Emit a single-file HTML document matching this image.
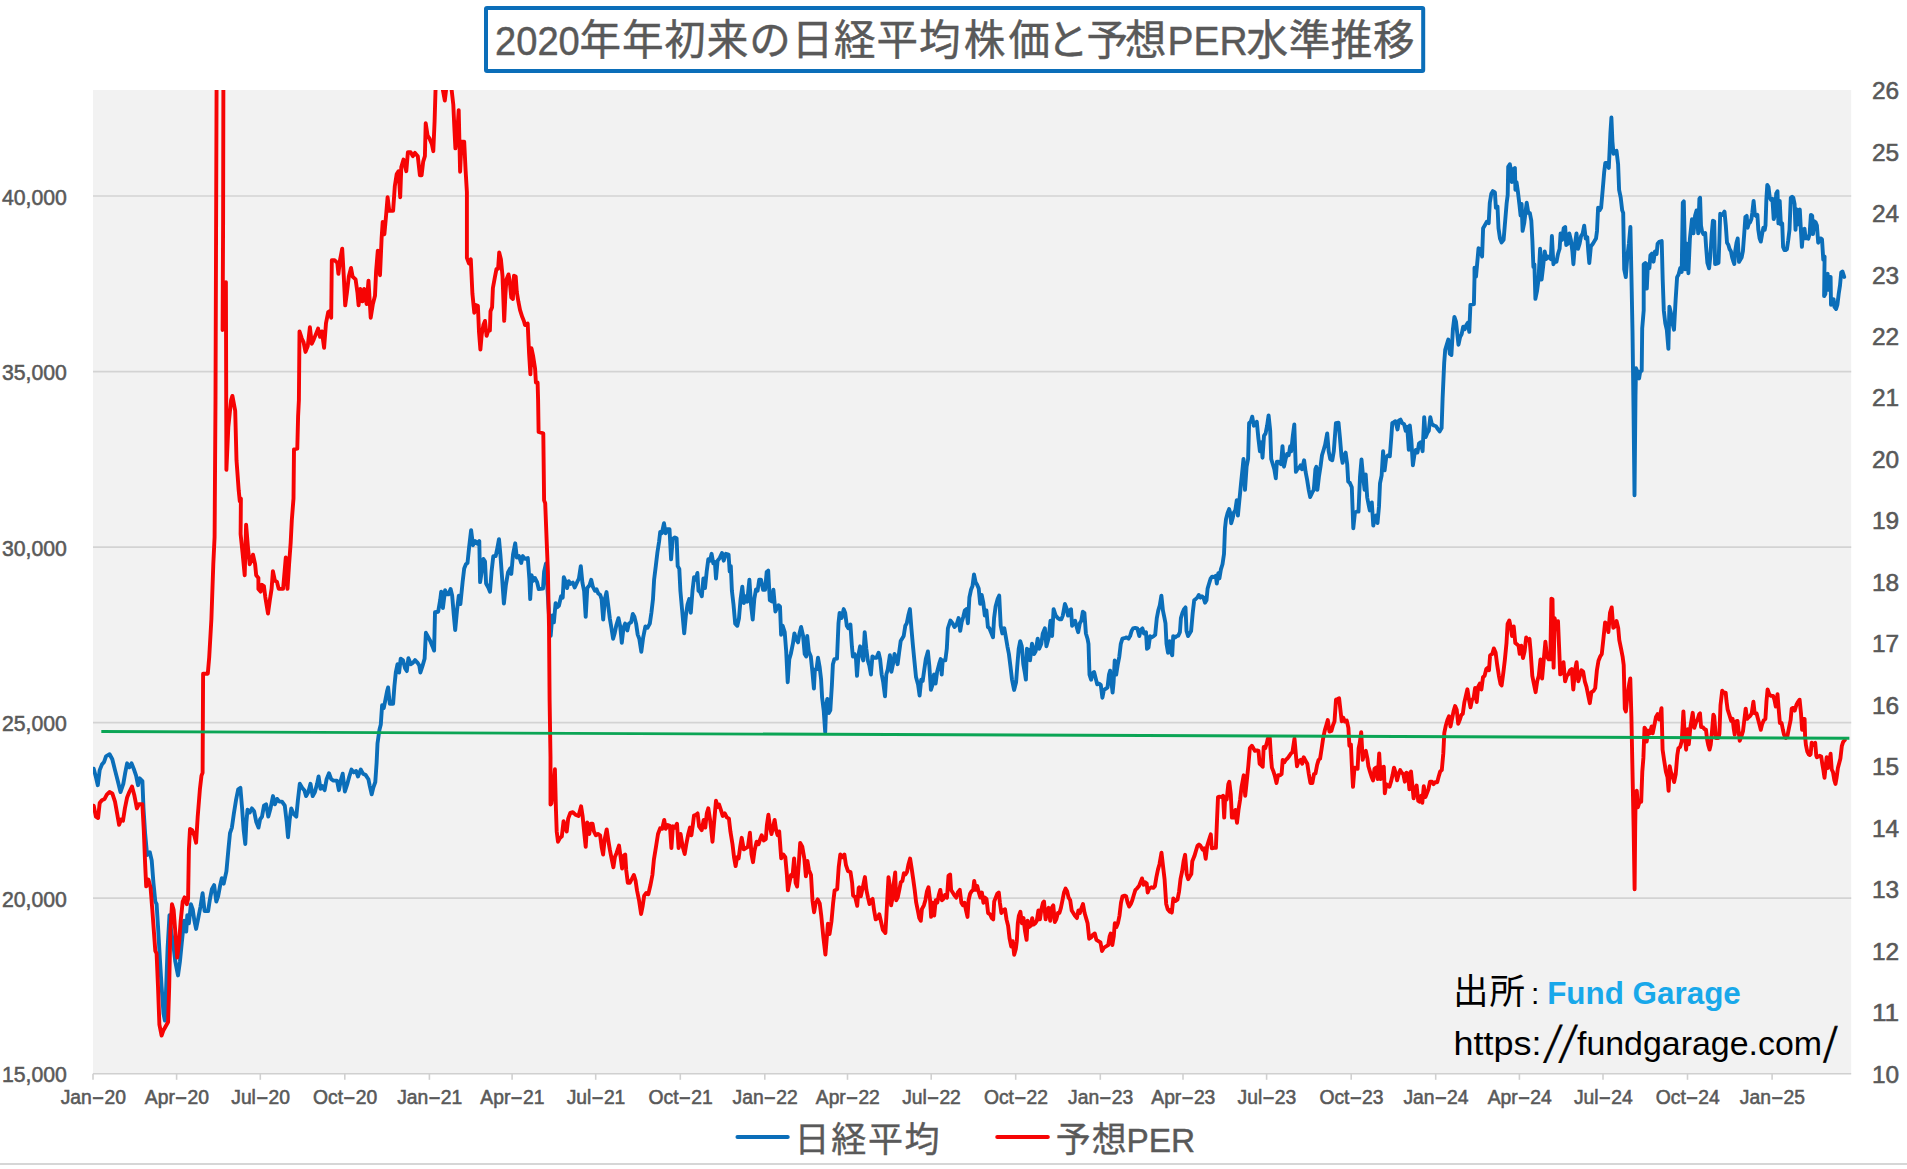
<!DOCTYPE html>
<html lang="ja"><head><meta charset="utf-8"><title>2020年年初来の日経平均株価と予想PER水準推移</title>
<style>
html,body{margin:0;padding:0;background:#fff}
body{width:1907px;height:1169px;overflow:hidden;position:relative}
svg text{white-space:pre}
.la,.ax{font-family:"Liberation Sans",sans-serif}
.jp{font-family:"Liberation Sans","Noto Sans CJK JP",sans-serif}
.ax{fill:#595959;stroke:#595959;stroke-width:.55px}
.ttl{fill:#595959;stroke:#595959;stroke-width:.45px}
.lg{fill:#595959;stroke:#595959;stroke-width:.4px}
.sl{fill:#000;stroke:#000;stroke-width:.5px}
</style>
</head><body>
<svg width="1907" height="1169" viewBox="0 0 1907 1169" style="position:absolute;left:0;top:0">
<rect x="0" y="0" width="1907" height="1169" fill="#fff"/>
<rect x="93" y="90" width="1758.2" height="983.8" fill="#f2f2f2"/>
<line x1="93" x2="1851.2" y1="898.2" y2="898.2" stroke="#d3d3d3" stroke-width="1.7"/>
<line x1="93" x2="1851.2" y1="722.7" y2="722.7" stroke="#d3d3d3" stroke-width="1.7"/>
<line x1="93" x2="1851.2" y1="547.1" y2="547.1" stroke="#d3d3d3" stroke-width="1.7"/>
<line x1="93" x2="1851.2" y1="371.6" y2="371.6" stroke="#d3d3d3" stroke-width="1.7"/>
<line x1="93" x2="1851.2" y1="196.0" y2="196.0" stroke="#d3d3d3" stroke-width="1.7"/>
<line x1="93" x2="1851.2" y1="1073.8" y2="1073.8" stroke="#d0d0d0" stroke-width="1.6"/>
<line x1="93.0" x2="93.0" y1="1073.8" y2="1079.8" stroke="#d0d0d0" stroke-width="1.6"/>
<line x1="176.6" x2="176.6" y1="1073.8" y2="1079.8" stroke="#d0d0d0" stroke-width="1.6"/>
<line x1="260.3" x2="260.3" y1="1073.8" y2="1079.8" stroke="#d0d0d0" stroke-width="1.6"/>
<line x1="344.8" x2="344.8" y1="1073.8" y2="1079.8" stroke="#d0d0d0" stroke-width="1.6"/>
<line x1="429.4" x2="429.4" y1="1073.8" y2="1079.8" stroke="#d0d0d0" stroke-width="1.6"/>
<line x1="512.1" x2="512.1" y1="1073.8" y2="1079.8" stroke="#d0d0d0" stroke-width="1.6"/>
<line x1="595.7" x2="595.7" y1="1073.8" y2="1079.8" stroke="#d0d0d0" stroke-width="1.6"/>
<line x1="680.3" x2="680.3" y1="1073.8" y2="1079.8" stroke="#d0d0d0" stroke-width="1.6"/>
<line x1="764.8" x2="764.8" y1="1073.8" y2="1079.8" stroke="#d0d0d0" stroke-width="1.6"/>
<line x1="847.5" x2="847.5" y1="1073.8" y2="1079.8" stroke="#d0d0d0" stroke-width="1.6"/>
<line x1="931.2" x2="931.2" y1="1073.8" y2="1079.8" stroke="#d0d0d0" stroke-width="1.6"/>
<line x1="1015.7" x2="1015.7" y1="1073.8" y2="1079.8" stroke="#d0d0d0" stroke-width="1.6"/>
<line x1="1100.3" x2="1100.3" y1="1073.8" y2="1079.8" stroke="#d0d0d0" stroke-width="1.6"/>
<line x1="1183.0" x2="1183.0" y1="1073.8" y2="1079.8" stroke="#d0d0d0" stroke-width="1.6"/>
<line x1="1266.6" x2="1266.6" y1="1073.8" y2="1079.8" stroke="#d0d0d0" stroke-width="1.6"/>
<line x1="1351.2" x2="1351.2" y1="1073.8" y2="1079.8" stroke="#d0d0d0" stroke-width="1.6"/>
<line x1="1435.7" x2="1435.7" y1="1073.8" y2="1079.8" stroke="#d0d0d0" stroke-width="1.6"/>
<line x1="1519.4" x2="1519.4" y1="1073.8" y2="1079.8" stroke="#d0d0d0" stroke-width="1.6"/>
<line x1="1603.0" x2="1603.0" y1="1073.8" y2="1079.8" stroke="#d0d0d0" stroke-width="1.6"/>
<line x1="1687.5" x2="1687.5" y1="1073.8" y2="1079.8" stroke="#d0d0d0" stroke-width="1.6"/>
<line x1="1772.1" x2="1772.1" y1="1073.8" y2="1079.8" stroke="#d0d0d0" stroke-width="1.6"/>
<clipPath id="pc"><rect x="93" y="90" width="1758.2" height="983.8"/></clipPath>
<g clip-path="url(#pc)" fill="none" stroke-linejoin="round" stroke-linecap="round">
<path d="M93.7,768.7 L95.9,777.0 L97.8,785.2 L99.7,770.1 L101.9,764.6 L104.1,761.9 L106.0,756.4 L109.6,754.2 L112.3,759.2 L115.0,770.1 L117.8,781.1 L120.5,792.0 L123.3,783.8 L125.2,772.8 L127.1,763.3 L129.3,767.4 L131.5,763.3 L133.7,768.7 L136.1,775.6 L138.0,785.2 L139.7,778.3 L142.4,781.1 L143.5,808.4 L145.1,833.1 L147.1,855.0 L149.8,852.2 L151.7,860.4 L153.4,882.3 L155.3,901.5 L156.6,904.2 L158.0,926.1 L159.9,959.0 L161.6,986.4 L163.5,1013.7 L164.9,1020.6 L166.2,986.4 L167.6,948.0 L169.5,915.2 L171.2,931.6 L173.1,942.6 L175.3,961.7 L178.0,975.4 L179.9,961.7 L181.8,942.6 L184.0,920.7 L186.2,931.6 L187.3,915.2 L188.9,923.4 L190.9,904.2 L192.8,909.7 L194.4,920.7 L196.1,928.9 L198.3,917.9 L200.4,907.0 L202.6,893.3 L204.6,911.1 L208.1,911.1 L210.0,898.8 L211.9,889.2 L214.1,885.1 L216.3,901.5 L218.2,896.0 L220.2,885.1 L221.8,878.2 L223.7,883.7 L226.4,871.4 L228.4,849.5 L230.0,833.1 L231.9,827.6 L233.8,813.9 L236.0,800.2 L238.2,789.3 L240.4,787.9 L242.1,808.4 L243.7,830.3 L245.3,844.0 L246.4,822.1 L247.5,809.8 L249.7,812.5 L251.9,808.4 L254.1,811.2 L256.3,822.1 L258.5,827.6 L260.1,819.4 L262.0,816.6 L264.0,805.7 L266.1,804.3 L268.3,816.6 L270.5,808.4 L273.0,796.1 L274.9,804.3 L277.1,798.9 L279.3,801.6 L282.0,801.6 L284.8,805.7 L286.7,822.1 L288.0,837.2 L289.7,819.4 L291.3,808.4 L293.5,813.9 L296.3,816.6 L297.9,800.2 L299.8,783.8 L302.3,787.9 L304.5,790.6 L306.1,796.1 L308.3,792.0 L310.5,783.8 L312.7,796.1 L314.9,792.0 L317.1,783.8 L318.6,776.5 L320.5,788.8 L322.4,786.1 L324.6,790.2 L326.6,779.2 L329.0,773.2 L331.2,779.2 L333.4,780.6 L337.0,780.6 L338.9,790.2 L341.1,779.2 L342.7,773.7 L344.9,791.5 L347.1,784.7 L349.3,776.5 L351.5,769.6 L353.7,772.4 L356.1,771.0 L358.0,776.5 L360.8,769.6 L363.0,773.7 L365.7,775.1 L368.4,779.2 L369.8,786.1 L371.7,794.3 L373.4,787.4 L375.3,782.0 L376.6,762.8 L377.5,743.6 L379.4,729.9 L380.8,724.5 L382.1,705.3 L383.8,708.0 L385.4,699.8 L387.0,691.6 L388.1,687.5 L389.8,703.9 L393.1,703.9 L394.4,686.1 L395.8,672.5 L397.5,664.2 L399.1,672.5 L400.7,658.8 L402.9,660.1 L405.1,668.3 L406.8,671.1 L408.4,658.2 L410.9,664.2 L412.8,662.9 L415.0,660.1 L417.7,662.9 L419.3,665.6 L420.4,672.5 L422.6,665.6 L424.6,658.8 L425.9,632.8 L428.1,636.9 L430.3,641.0 L432.5,646.4 L434.1,650.6 L435.0,612.2 L438.2,611.7 L440.2,599.9 L441.2,591.7 L442.9,608.1 L445.1,590.3 L446.7,594.4 L448.4,594.4 L450.6,589.0 L452.2,595.8 L453.8,615.0 L455.2,630.0 L457.1,609.5 L458.8,595.8 L460.4,604.0 L462.6,582.1 L464.2,568.4 L465.9,564.3 L467.5,563.0 L469.2,546.5 L471.1,530.1 L473.0,545.2 L475.2,541.1 L477.4,543.8 L479.3,541.1 L480.1,582.1 L481.8,571.2 L483.4,558.9 L485.0,561.6 L486.1,583.5 L488.3,587.6 L490.0,591.7 L491.6,571.2 L493.3,556.1 L495.7,556.1 L497.1,549.3 L499.0,539.1 L500.4,554.7 L502.0,576.6 L503.9,603.5 L505.9,584.9 L508.0,572.5 L510.2,568.4 L511.3,573.9 L513.0,554.7 L515.2,543.3 L516.8,557.5 L519.0,556.1 L521.2,563.0 L522.8,556.1 L525.0,558.9 L527.8,558.0 L529.4,579.4 L530.2,599.1 L531.6,575.3 L533.2,580.8 L534.9,578.0 L537.1,582.1 L538.7,589.0 L543.0,588.6 L544.1,571.6 L546.0,563.4 L547.4,588.0 L549.0,615.4 L550.7,635.9 L552.3,615.4 L553.9,622.3 L555.6,603.1 L557.2,607.2 L558.9,605.8 L561.1,596.3 L562.7,597.6 L563.8,577.1 L565.4,581.2 L567.1,588.0 L568.7,581.2 L570.6,583.9 L572.8,582.6 L574.7,587.5 L576.9,582.6 L578.9,578.5 L580.8,566.1 L582.4,582.6 L584.1,590.8 L585.7,616.8 L587.3,588.0 L589.5,585.3 L591.2,579.8 L592.8,586.7 L595.0,590.8 L596.6,589.4 L598.3,593.5 L600.2,594.9 L601.6,599.0 L603.2,619.5 L604.9,599.0 L606.5,592.1 L608.1,604.5 L609.8,618.2 L611.4,627.7 L613.1,638.7 L614.7,633.2 L616.4,625.0 L618.5,618.2 L620.2,626.4 L621.8,642.8 L623.5,627.7 L625.1,623.6 L627.3,630.5 L628.9,623.6 L631.1,622.3 L632.8,614.0 L634.4,616.8 L636.1,623.6 L637.7,634.6 L639.3,638.7 L641.3,651.8 L643.2,637.3 L645.4,626.4 L647.6,627.7 L649.8,623.6 L651.4,612.7 L653.0,599.0 L654.1,579.8 L655.8,566.1 L657.4,552.5 L659.1,541.5 L660.2,531.9 L661.8,533.3 L664.0,523.2 L665.6,533.3 L667.3,529.2 L669.5,529.2 L671.1,559.3 L672.7,538.8 L674.9,537.4 L676.6,538.2 L677.7,566.1 L679.3,568.9 L680.4,590.8 L682.1,609.9 L684.2,633.2 L685.9,615.4 L687.5,604.5 L689.2,599.0 L690.8,612.7 L692.5,590.8 L694.1,577.1 L695.7,579.8 L697.4,573.0 L698.5,590.8 L700.1,592.1 L701.8,596.3 L703.4,578.5 L705.0,588.0 L706.7,571.6 L708.3,559.3 L710.0,560.7 L711.6,553.8 L713.3,563.4 L714.9,562.0 L716.0,578.5 L717.6,560.7 L719.8,557.9 L722.0,553.0 L723.7,560.7 L725.9,553.8 L728.6,554.6 L729.7,571.6 L730.8,566.1 L731.9,590.8 L733.5,604.5 L735.2,623.6 L737.3,625.8 L739.0,618.2 L740.6,599.0 L742.3,586.7 L743.9,603.1 L745.6,596.3 L747.2,601.7 L749.4,579.8 L751.0,604.5 L752.7,619.5 L754.3,599.0 L756.0,589.4 L757.6,590.8 L759.2,579.8 L761.0,579.6 L763.1,589.8 L765.1,589.8 L766.7,571.9 L768.2,570.6 L769.8,600.1 L771.8,601.4 L773.4,589.8 L775.4,611.6 L777.0,607.8 L778.5,605.2 L780.0,606.5 L781.1,634.7 L782.6,625.7 L784.7,632.2 L786.2,651.4 L787.7,682.2 L789.3,659.1 L790.8,654.0 L792.9,643.7 L794.4,633.4 L795.9,638.6 L798.0,642.4 L799.5,633.4 L801.1,627.0 L803.1,636.0 L804.7,654.0 L806.2,656.5 L807.2,636.0 L808.8,651.4 L810.8,656.5 L812.4,671.9 L813.9,688.6 L814.9,669.4 L816.5,669.4 L818.0,657.8 L819.6,666.8 L821.1,679.6 L822.1,697.6 L823.7,710.4 L825.2,732.2 L826.2,705.3 L827.3,698.9 L828.8,713.0 L830.3,710.4 L831.9,684.8 L832.9,664.2 L834.4,659.1 L837.0,658.6 L838.5,623.2 L839.6,612.9 L841.6,618.0 L843.7,609.1 L845.2,612.9 L846.8,625.7 L848.3,628.3 L850.4,624.5 L851.9,646.3 L852.9,656.5 L854.5,654.0 L856.0,659.1 L857.0,675.8 L858.6,654.0 L860.1,646.3 L861.6,654.0 L863.2,660.4 L864.7,632.2 L866.3,648.8 L867.8,660.4 L869.3,665.5 L870.9,674.5 L872.4,656.5 L874.5,657.8 L876.5,657.8 L878.6,652.7 L880.1,659.1 L881.7,674.5 L883.2,682.2 L885.0,696.3 L886.3,674.5 L887.8,669.4 L889.9,655.3 L891.4,671.9 L893.0,664.2 L894.5,654.0 L896.0,657.8 L897.6,664.2 L899.1,652.7 L900.7,641.1 L902.2,638.6 L903.7,636.0 L905.3,625.7 L906.8,623.2 L908.3,615.5 L909.9,609.1 L911.4,628.3 L913.0,646.3 L914.5,661.7 L916.0,677.1 L918.1,684.8 L919.6,695.6 L921.2,679.6 L922.7,680.9 L924.3,669.4 L925.8,659.1 L927.9,651.4 L929.4,666.8 L930.9,689.9 L932.5,684.8 L934.0,674.5 L935.6,683.5 L937.1,671.9 L939.1,664.2 L940.7,659.1 L941.7,674.5 L942.7,660.4 L945.3,660.4 L946.8,648.8 L947.9,628.3 L950.4,620.6 L952.5,623.2 L954.5,627.0 L956.6,624.5 L958.6,618.0 L960.2,630.9 L961.7,621.9 L963.3,616.8 L964.8,610.4 L966.3,609.1 L967.9,623.2 L969.4,597.5 L971.0,589.8 L972.5,586.0 L974.0,574.4 L975.6,582.1 L977.1,584.7 L978.7,588.5 L980.2,603.9 L981.7,595.0 L983.3,602.7 L984.8,615.5 L986.4,610.4 L987.9,627.0 L989.4,628.3 L991.0,632.2 L993.0,637.3 L994.1,618.0 L995.6,606.5 L997.7,598.8 L999.2,595.5 L1000.7,625.7 L1002.3,633.4 L1004.3,628.3 L1005.9,637.3 L1007.4,646.3 L1008.9,654.0 L1010.5,666.8 L1012.0,679.6 L1014.1,689.9 L1016.1,682.2 L1017.2,666.8 L1018.7,648.8 L1020.2,641.1 L1021.8,646.3 L1023.3,664.2 L1024.9,673.2 L1025.9,679.6 L1026.9,648.8 L1029.0,650.1 L1030.0,660.4 L1032.0,643.7 L1034.1,654.0 L1035.6,651.4 L1037.7,638.6 L1039.2,648.8 L1041.3,643.7 L1042.8,633.4 L1044.9,628.3 L1046.4,646.3 L1048.5,638.6 L1050.5,620.6 L1052.1,636.0 L1053.6,609.1 L1055.7,615.5 L1057.7,618.0 L1059.8,619.3 L1061.3,619.4 L1062.8,615.6 L1064.9,604.0 L1066.4,607.9 L1068.0,615.6 L1069.5,610.4 L1071.0,609.2 L1072.1,625.8 L1073.6,623.3 L1075.1,620.7 L1076.7,627.1 L1078.2,632.2 L1079.8,623.3 L1081.3,620.7 L1082.8,611.7 L1084.4,613.0 L1085.9,633.5 L1087.5,638.7 L1088.5,643.8 L1089.5,674.6 L1091.1,679.7 L1092.6,673.3 L1094.1,672.0 L1095.7,678.4 L1097.2,684.3 L1099.3,683.6 L1100.8,684.9 L1102.4,697.7 L1103.9,690.0 L1105.9,688.7 L1107.5,687.4 L1109.0,674.6 L1110.1,670.7 L1111.1,679.7 L1112.6,692.6 L1113.6,682.3 L1114.7,660.5 L1116.2,674.6 L1117.8,664.3 L1119.3,656.6 L1120.8,643.8 L1122.4,638.7 L1124.4,638.2 L1126.5,637.4 L1128.5,638.7 L1130.1,636.1 L1131.6,631.0 L1133.1,628.4 L1135.2,627.9 L1137.3,628.4 L1139.3,636.1 L1140.8,629.7 L1142.4,628.4 L1143.9,633.5 L1146.0,632.2 L1147.0,648.9 L1148.5,647.6 L1150.1,636.1 L1151.6,637.4 L1153.7,636.1 L1155.2,634.8 L1156.8,618.1 L1158.3,610.4 L1159.8,605.3 L1161.4,595.6 L1162.9,610.4 L1164.5,618.1 L1165.5,623.3 L1166.5,643.8 L1168.0,652.8 L1169.6,641.2 L1171.1,652.8 L1172.2,655.3 L1173.2,636.1 L1175.2,637.4 L1176.8,636.1 L1178.3,635.6 L1179.9,632.2 L1180.9,618.1 L1182.4,613.0 L1184.0,609.2 L1185.5,607.4 L1186.5,631.0 L1188.1,636.1 L1189.6,633.5 L1191.1,631.0 L1192.7,613.0 L1194.2,600.2 L1195.8,598.9 L1197.3,597.6 L1198.8,595.0 L1200.4,597.6 L1201.9,596.3 L1203.5,597.6 L1205.0,602.7 L1206.5,600.2 L1207.6,588.6 L1209.1,583.5 L1210.7,578.4 L1212.2,576.6 L1214.2,577.1 L1215.8,575.8 L1216.8,583.5 L1218.3,573.2 L1219.4,578.4 L1220.9,569.4 L1222.5,564.2 L1224.0,554.0 L1225.0,528.3 L1226.0,519.3 L1227.6,512.9 L1229.1,509.1 L1230.2,512.9 L1231.2,523.2 L1232.7,518.0 L1233.7,512.9 L1235.3,510.4 L1236.8,500.1 L1237.9,515.5 L1239.4,500.1 L1240.9,484.7 L1242.5,469.3 L1243.5,459.0 L1245.0,489.8 L1246.6,466.7 L1248.1,459.0 L1249.1,423.1 L1250.7,421.8 L1252.2,416.7 L1253.8,425.7 L1255.3,424.4 L1256.8,421.8 L1258.4,438.5 L1259.9,451.3 L1261.5,442.3 L1262.5,457.7 L1264.0,435.9 L1265.6,433.4 L1267.1,425.7 L1268.6,415.4 L1270.2,430.8 L1271.2,459.0 L1272.8,464.2 L1274.3,469.3 L1275.8,478.3 L1276.9,461.6 L1278.4,461.6 L1279.9,462.9 L1281.0,464.2 L1282.5,446.2 L1284.0,466.7 L1285.6,459.0 L1287.1,453.9 L1288.7,455.2 L1290.2,446.2 L1291.2,451.3 L1292.8,435.9 L1294.3,424.4 L1295.9,471.9 L1297.4,469.3 L1298.9,468.0 L1300.5,465.4 L1302.0,469.3 L1304.1,460.3 L1305.6,471.9 L1307.1,479.6 L1308.7,489.8 L1310.2,497.0 L1312.3,492.4 L1313.8,489.8 L1315.4,469.3 L1316.4,466.7 L1317.4,489.8 L1318.9,477.0 L1320.5,466.7 L1322.0,455.2 L1323.6,450.0 L1325.1,444.9 L1327.2,433.4 L1328.7,451.3 L1330.2,459.0 L1332.3,460.3 L1333.8,451.3 L1335.9,423.1 L1338.5,422.6 L1340.0,438.5 L1341.5,456.5 L1342.6,462.9 L1344.1,455.2 L1345.6,452.6 L1347.2,464.2 L1348.2,481.6 L1349.7,482.6 L1351.8,487.3 L1353.3,528.3 L1354.9,512.9 L1356.4,511.6 L1358.5,511.6 L1360.0,477.0 L1361.5,459.5 L1363.1,477.0 L1364.6,489.8 L1365.7,474.4 L1367.2,497.5 L1368.7,505.2 L1369.8,510.4 L1370.8,506.4 L1371.8,502.5 L1373.3,525.6 L1374.9,516.6 L1376.4,515.3 L1377.5,523.0 L1379.0,506.4 L1380.0,483.3 L1381.6,475.6 L1383.1,451.2 L1384.6,470.4 L1386.2,457.6 L1387.7,455.6 L1389.8,456.3 L1391.3,437.1 L1392.3,423.0 L1393.9,422.2 L1395.4,421.2 L1397.5,429.4 L1399.0,420.4 L1400.5,419.6 L1402.1,423.0 L1404.1,424.2 L1405.7,430.7 L1407.2,426.8 L1408.8,449.9 L1409.8,425.5 L1411.3,439.6 L1412.9,465.3 L1414.4,455.0 L1415.9,449.9 L1417.5,452.5 L1419.0,443.5 L1420.6,442.2 L1422.6,451.2 L1424.2,417.1 L1425.7,437.1 L1427.2,433.2 L1428.8,430.7 L1430.3,417.1 L1431.9,424.2 L1433.9,425.5 L1436.0,426.3 L1438.0,429.4 L1439.6,431.4 L1441.6,428.1 L1442.6,398.6 L1444.2,362.7 L1445.2,349.8 L1446.7,344.7 L1448.3,339.6 L1449.8,353.7 L1451.4,355.0 L1452.9,329.3 L1454.4,317.0 L1456.0,321.6 L1457.5,335.7 L1458.5,344.7 L1460.1,337.0 L1461.6,334.4 L1463.2,326.7 L1464.7,329.3 L1466.2,325.4 L1467.8,322.9 L1469.3,331.9 L1470.4,304.9 L1473.9,304.1 L1474.5,278.0 L1474.5,267.7 L1476.0,276.7 L1477.5,260.0 L1478.5,248.3 L1480.5,250.1 L1482.1,256.5 L1483.1,228.3 L1484.6,225.7 L1486.7,221.9 L1488.7,223.2 L1489.8,202.7 L1491.3,193.7 L1492.8,191.1 L1494.9,192.4 L1495.9,207.8 L1497.5,206.5 L1498.5,228.3 L1500.0,238.6 L1501.6,242.4 L1503.6,239.9 L1505.2,220.6 L1506.7,202.7 L1507.7,195.0 L1508.2,166.7 L1509.8,164.2 L1510.8,169.3 L1511.8,182.1 L1513.4,169.3 L1514.9,168.0 L1515.4,189.8 L1516.5,182.1 L1518.0,192.4 L1519.5,205.2 L1520.6,215.5 L1521.6,203.9 L1522.6,230.9 L1524.2,223.2 L1525.7,210.4 L1526.7,202.7 L1528.3,212.9 L1529.8,212.9 L1531.3,220.6 L1532.4,241.1 L1533.4,266.8 L1534.4,264.2 L1535.4,298.9 L1537.0,291.2 L1538.5,279.6 L1540.1,248.8 L1541.6,279.6 L1543.1,266.8 L1544.7,251.4 L1546.2,259.1 L1547.8,256.5 L1549.3,257.8 L1550.8,259.1 L1551.9,236.0 L1553.4,264.2 L1555.0,260.4 L1556.5,261.7 L1558.0,254.0 L1559.6,248.8 L1560.6,233.4 L1562.1,239.9 L1563.7,228.3 L1565.2,227.0 L1566.2,245.0 L1567.8,243.7 L1569.3,233.4 L1570.9,239.9 L1572.4,251.4 L1573.4,264.2 L1575.0,243.7 L1576.5,233.4 L1578.0,248.8 L1579.6,243.7 L1581.1,236.0 L1582.7,233.4 L1584.2,225.7 L1585.7,238.6 L1587.3,237.3 L1588.3,251.4 L1589.3,263.0 L1590.9,246.3 L1592.9,243.7 L1594.5,241.1 L1596.0,238.6 L1597.0,230.9 L1598.1,207.8 L1599.6,210.4 L1601.1,207.8 L1602.7,189.8 L1604.2,171.9 L1605.3,162.9 L1607.3,162.9 L1608.8,168.0 L1610.4,133.4 L1611.4,117.5 L1612.4,141.1 L1613.5,153.9 L1615.0,151.3 L1616.5,150.8 L1618.1,164.2 L1619.1,189.8 L1620.7,197.5 L1622.2,210.4 L1623.2,212.9 L1624.2,269.4 L1625.8,277.1 L1627.3,256.5 L1628.9,243.7 L1630.4,227.0 L1631.4,274.5 L1632.5,331.0 L1633.5,408.0 L1634.5,495.2 L1635.5,395.1 L1636.0,368.2 L1637.6,372.0 L1639.1,378.4 L1640.2,371.5 L1641.7,370.7 L1642.2,328.4 L1643.7,310.4 L1643.7,264.2 L1645.3,263.0 L1646.8,288.6 L1647.9,264.2 L1649.4,268.1 L1650.4,255.3 L1652.0,253.5 L1653.5,261.7 L1655.0,251.4 L1656.6,254.0 L1657.6,243.7 L1659.1,241.9 L1661.7,241.1 L1662.7,279.6 L1663.8,310.4 L1665.3,323.3 L1666.8,329.7 L1668.4,348.9 L1669.4,306.6 L1670.9,313.0 L1672.5,323.3 L1674.0,329.7 L1675.6,300.2 L1677.1,277.1 L1678.6,274.5 L1680.2,268.1 L1681.7,271.9 L1682.8,202.7 L1683.8,201.4 L1685.3,269.4 L1686.9,243.7 L1688.4,273.2 L1689.9,238.6 L1692.0,219.3 L1693.5,233.4 L1695.1,215.5 L1696.6,210.4 L1698.2,233.4 L1699.4,198.8 L1700.1,197.7 L1701.0,225.5 L1702.2,232.0 L1703.5,234.1 L1705.2,233.0 L1706.1,246.9 L1707.4,263.0 L1709.1,268.3 L1710.4,255.5 L1711.7,234.1 L1712.9,220.8 L1714.2,221.3 L1715.1,264.0 L1716.8,263.6 L1718.5,263.0 L1719.3,242.7 L1720.2,213.8 L1721.9,214.9 L1723.2,213.8 L1724.5,211.6 L1725.8,225.5 L1727.0,242.7 L1728.3,244.8 L1729.6,249.1 L1730.9,251.2 L1732.2,257.6 L1733.5,261.9 L1734.3,264.0 L1735.2,251.2 L1736.5,242.7 L1737.7,238.4 L1739.0,261.9 L1740.3,259.8 L1741.6,257.6 L1742.9,251.2 L1744.2,234.1 L1745.4,217.0 L1746.7,215.9 L1747.6,227.7 L1748.9,223.4 L1750.1,222.3 L1751.4,219.1 L1752.3,212.7 L1753.6,200.9 L1754.9,214.9 L1756.1,215.9 L1757.4,214.9 L1758.3,229.8 L1759.6,238.4 L1760.8,241.6 L1762.1,234.1 L1763.4,227.7 L1764.7,229.8 L1765.5,225.5 L1766.4,198.8 L1767.3,184.9 L1768.5,187.0 L1769.8,197.7 L1771.1,199.9 L1772.4,198.8 L1773.7,219.1 L1775.0,214.9 L1776.2,193.5 L1777.5,191.3 L1778.4,223.4 L1779.7,200.9 L1780.9,224.5 L1782.2,223.4 L1783.1,246.9 L1784.4,250.1 L1785.6,250.1 L1786.9,249.1 L1788.2,240.5 L1789.5,229.8 L1790.8,197.7 L1792.1,196.7 L1793.3,197.7 L1794.6,204.2 L1795.5,229.8 L1796.8,209.5 L1797.6,224.5 L1798.9,210.6 L1799.8,209.5 L1801.0,232.0 L1801.9,246.9 L1803.2,229.8 L1804.5,228.8 L1805.7,238.4 L1807.0,237.3 L1808.3,238.8 L1809.6,234.1 L1810.9,214.9 L1812.2,215.9 L1813.0,234.1 L1814.3,221.3 L1815.6,222.3 L1816.9,225.5 L1818.2,242.7 L1819.4,238.8 L1820.7,238.4 L1822.0,239.4 L1823.3,259.8 L1824.6,256.6 L1824.1,296.1 L1825.4,294.0 L1826.3,274.7 L1827.6,273.7 L1828.4,289.7 L1829.3,276.9 L1830.6,276.9 L1831.0,304.7 L1832.3,302.5 L1833.6,299.3 L1834.4,306.8 L1836.1,308.9 L1837.4,304.7 L1838.7,294.0 L1840.0,285.4 L1841.2,272.6 L1842.5,271.5 L1844.2,276.9" stroke="#0b6eb9" stroke-width="3.9"/>
<path d="M93.7,805.7 L95.9,816.6 L98.1,818.0 L99.7,803.0 L101.9,800.2 L104.6,798.9 L106.8,794.7 L109.6,792.0 L112.3,793.4 L115.0,801.6 L117.2,813.9 L119.1,824.9 L121.1,819.4 L123.0,820.8 L124.9,808.4 L127.1,797.5 L129.3,792.0 L132.0,786.5 L134.2,794.7 L136.9,808.4 L138.9,804.3 L142.4,804.3 L143.8,830.3 L145.1,863.2 L146.2,886.4 L148.4,879.6 L150.6,887.8 L152.3,909.7 L153.9,931.6 L155.3,950.8 L156.6,953.5 L158.0,986.4 L159.4,1024.7 L161.6,1035.6 L163.5,1030.2 L168.1,1022.0 L169.2,986.4 L170.3,931.6 L172.0,904.2 L173.6,909.7 L175.3,931.6 L177.2,957.6 L179.1,942.6 L180.7,920.7 L182.7,901.5 L184.6,897.4 L186.8,904.2 L188.1,898.8 L188.9,849.5 L190.0,829.0 L192.2,830.3 L194.4,835.8 L196.1,842.7 L197.7,816.6 L199.9,789.3 L201.5,775.6 L202.6,772.8 L203.1,673.7 L207.8,673.7 L209.2,657.3 L211.4,619.0 L213.3,564.2 L214.6,536.9 L215.5,400.0 L216.6,79.5 L219.8,2.9 L223.4,79.5 L223.1,221.9 L222.6,330.0 L224.2,304.0 L225.9,282.1 L226.4,469.8 L228.3,427.4 L231.1,400.0 L232.4,395.9 L235.2,410.9 L236.5,460.2 L238.7,490.3 L239.8,501.3 L240.9,498.5 L240.6,534.1 L242.6,553.3 L244.7,575.2 L246.1,524.6 L248.0,547.8 L249.7,564.2 L251.6,560.1 L253.0,554.7 L255.1,564.2 L256.2,575.2 L258.4,577.9 L258.4,588.9 L260.6,591.6 L261.7,584.8 L263.9,586.1 L265.3,597.1 L268.0,613.5 L269.9,599.8 L271.6,588.9 L272.9,571.1 L274.9,580.7 L277.0,582.0 L278.7,588.9 L283.1,588.9 L285.8,557.4 L287.5,588.9 L289.1,564.2 L290.7,542.3 L291.8,520.4 L293.5,498.5 L294.0,449.3 L297.3,448.7 L298.1,416.4 L298.9,400.0 L299.5,331.4 L301.7,338.2 L303.6,342.3 L305.5,351.9 L307.7,346.4 L309.9,327.3 L311.8,343.7 L313.7,339.6 L315.9,334.1 L318.1,328.6 L320.0,336.8 L321.9,331.4 L324.1,347.8 L326.0,323.2 L328.2,312.2 L330.2,310.8 L331.2,317.7 L331.8,260.2 L334.5,260.2 L337.3,262.9 L338.4,273.9 L340.0,260.2 L342.2,248.7 L343.8,276.6 L345.2,305.4 L346.9,293.0 L348.8,276.6 L351.0,267.9 L352.6,276.6 L355.6,279.4 L357.5,293.0 L358.6,305.4 L360.3,288.9 L362.5,301.3 L364.1,288.9 L366.6,304.0 L368.5,280.7 L370.7,317.7 L372.9,304.0 L375.0,295.8 L376.1,271.1 L377.8,250.6 L380.0,275.2 L381.6,238.3 L382.7,221.9 L384.4,234.2 L386.0,216.4 L387.6,197.2 L389.3,210.9 L393.1,210.9 L394.8,186.3 L396.7,174.0 L398.6,171.2 L400.2,197.2 L401.3,167.1 L403.5,159.5 L406.3,171.2 L407.9,152.1 L410.6,152.1 L412.8,156.2 L415.0,152.9 L417.8,156.2 L419.9,175.3 L421.6,175.3 L423.2,161.6 L424.9,156.2 L425.7,123.3 L427.6,135.6 L429.7,138.9 L431.9,144.3 L433.3,151.2 L434.6,121.1 L435.5,90.9 L437.4,63.6 L440.1,74.5 L442.8,89.6 L444.8,100.5 L446.1,89.6 L448.3,77.3 L451.6,89.6 L453.3,104.6 L454.3,126.5 L455.4,148.4 L457.1,134.7 L458.7,110.1 L460.1,171.7 L461.5,141.6 L464.2,141.6 L465.6,170.3 L466.9,192.2 L466.9,257.9 L468.9,263.4 L470.8,259.3 L472.4,293.5 L474.3,312.7 L475.7,305.0 L477.9,305.8 L479.0,331.8 L480.4,349.6 L481.7,334.6 L483.4,325.0 L485.0,320.9 L486.6,335.9 L488.3,330.5 L489.9,330.5 L490.5,311.3 L492.1,307.2 L492.9,288.0 L494.9,277.1 L496.5,268.9 L498.1,268.9 L499.2,252.5 L500.9,259.3 L502.5,275.7 L504.2,320.9 L505.3,296.3 L506.4,279.8 L508.5,274.4 L509.6,279.8 L511.3,297.6 L512.9,299.0 L514.0,275.7 L515.7,276.5 L516.8,292.1 L518.4,301.7 L520.0,309.9 L522.2,316.8 L523.9,320.9 L525.0,325.0 L527.7,323.6 L529.1,353.7 L530.4,374.3 L531.5,348.3 L533.2,356.5 L535.1,368.8 L535.9,382.5 L537.6,382.5 L538.1,400.0 L538.6,432.0 L543.3,433.4 L544.1,500.4 L545.2,503.2 L546.8,544.2 L547.9,571.6 L549.0,626.4 L549.6,700.0 L550.5,757.0 L550.5,804.5 L551.5,803.2 L553.3,787.8 L554.9,769.3 L555.9,808.3 L556.7,831.4 L558.0,841.7 L560.0,837.8 L561.8,836.5 L563.6,821.1 L565.1,827.6 L566.7,831.4 L568.2,818.6 L570.3,812.9 L572.8,812.2 L575.4,814.7 L578.5,816.0 L581.1,806.3 L582.6,816.0 L584.1,831.4 L585.7,846.8 L587.2,822.4 L589.3,834.0 L590.8,823.7 L592.6,823.7 L593.9,831.4 L595.9,835.3 L598.0,834.0 L600.1,835.3 L601.6,846.8 L603.1,854.5 L604.7,839.1 L606.7,829.4 L608.3,840.4 L609.8,849.4 L611.3,857.1 L613.4,867.3 L614.9,857.1 L616.5,853.2 L619.0,845.5 L620.6,857.1 L622.1,868.6 L623.7,855.8 L625.2,854.5 L626.2,869.9 L627.8,882.7 L629.8,882.7 L631.9,878.9 L633.9,875.0 L635.5,880.2 L637.0,890.4 L639.1,900.7 L641.1,914.0 L642.7,905.8 L644.2,895.6 L646.2,893.0 L648.3,894.3 L650.4,885.3 L652.4,875.0 L653.9,859.6 L656.0,846.8 L658.0,834.0 L660.1,828.3 L662.2,828.8 L664.2,819.9 L665.7,828.8 L667.8,825.0 L669.9,825.8 L671.4,848.1 L672.9,826.3 L675.0,827.6 L677.0,823.7 L678.6,848.1 L680.6,834.0 L682.7,846.8 L684.7,854.0 L686.3,844.2 L688.3,834.0 L689.9,827.6 L691.4,835.3 L693.0,823.7 L694.0,815.5 L696.0,814.7 L697.6,813.4 L699.1,826.3 L701.7,830.1 L703.7,819.9 L705.3,827.6 L706.8,813.4 L708.3,808.3 L709.9,818.6 L710.9,826.3 L712.5,841.7 L714.0,823.7 L716.0,800.6 L717.6,807.0 L719.1,804.5 L721.2,810.9 L722.7,816.0 L724.8,813.4 L726.8,817.3 L728.9,818.6 L730.4,831.4 L732.5,844.2 L734.0,857.1 L735.6,866.1 L737.1,857.1 L738.6,858.4 L740.2,846.8 L741.7,837.8 L743.8,849.4 L745.8,848.1 L747.9,846.8 L749.9,832.7 L751.5,854.5 L753.0,862.2 L754.5,850.7 L756.6,841.7 L758.6,844.2 L760.2,839.1 L761.7,835.3 L763.8,840.4 L765.8,839.1 L766.9,825.0 L768.4,814.7 L769.9,826.3 L771.5,834.0 L773.0,827.6 L774.6,819.9 L776.1,830.1 L777.6,835.3 L779.2,831.4 L781.2,858.4 L783.3,854.5 L785.3,857.1 L786.9,875.0 L787.9,890.4 L789.4,882.7 L791.0,875.0 L792.5,876.3 L794.1,858.4 L795.6,882.7 L797.1,886.6 L798.7,864.8 L800.2,843.0 L802.3,846.8 L804.3,858.4 L805.9,876.3 L807.4,860.9 L808.9,869.9 L811.0,875.0 L812.5,900.7 L814.1,912.2 L815.6,903.3 L817.7,899.4 L819.7,903.3 L821.3,916.1 L823.3,936.6 L825.4,954.6 L826.9,936.6 L827.9,923.8 L829.5,934.1 L831.5,921.2 L833.1,903.3 L834.6,890.4 L837.2,889.2 L838.7,867.3 L840.3,854.5 L842.3,857.1 L844.4,854.5 L845.9,864.8 L848.0,871.2 L850.5,872.0 L852.1,882.7 L853.1,895.6 L855.1,896.9 L857.2,905.8 L858.7,887.9 L859.2,887.3 L860.8,896.3 L862.8,887.3 L864.9,877.1 L866.4,889.9 L868.0,897.6 L869.5,904.0 L871.0,900.2 L872.6,898.9 L874.1,910.4 L875.7,919.4 L877.7,918.1 L879.3,914.3 L880.8,920.7 L882.8,929.7 L885.4,933.0 L886.4,915.6 L887.5,895.0 L888.5,877.1 L890.0,887.3 L891.1,905.3 L892.6,897.6 L893.6,884.8 L895.2,872.5 L896.2,900.2 L897.7,897.6 L899.3,889.9 L900.8,882.2 L902.4,880.9 L903.9,873.2 L905.4,874.5 L907.0,871.9 L908.5,864.2 L910.1,858.6 L911.6,868.1 L913.1,878.4 L914.7,889.9 L916.2,902.7 L917.8,910.4 L919.3,918.1 L920.8,920.7 L921.9,909.2 L923.9,905.3 L925.4,900.2 L927.0,891.2 L928.5,887.3 L930.1,900.2 L931.1,916.9 L932.6,902.7 L934.2,915.6 L935.7,900.2 L937.3,902.7 L938.8,895.0 L940.3,889.9 L941.9,900.2 L943.4,898.9 L945.0,895.0 L947.0,897.6 L948.5,875.8 L950.1,874.5 L951.1,889.9 L952.7,892.5 L954.2,895.0 L956.2,897.6 L957.8,892.5 L959.8,889.9 L961.4,902.7 L962.9,905.3 L964.5,902.7 L966.0,910.4 L967.5,916.9 L968.6,900.2 L970.1,893.8 L971.6,891.2 L973.2,889.9 L974.2,880.9 L975.7,889.9 L977.3,886.1 L978.8,892.5 L980.4,897.6 L981.9,892.5 L983.4,902.7 L985.0,897.6 L986.5,898.9 L988.1,913.0 L990.1,914.3 L991.7,918.1 L993.2,919.4 L994.2,901.5 L995.8,897.6 L997.3,893.8 L998.8,892.5 L999.9,902.7 L1001.4,913.0 L1003.0,910.4 L1005.0,909.2 L1006.5,919.4 L1008.1,925.8 L1009.6,938.7 L1011.2,946.4 L1012.7,941.2 L1014.2,954.8 L1015.8,948.9 L1016.8,941.2 L1017.8,923.3 L1018.9,915.6 L1020.4,911.7 L1021.9,923.3 L1023.5,918.1 L1025.0,931.0 L1026.6,939.9 L1027.6,920.7 L1029.1,927.1 L1030.7,925.8 L1032.2,918.1 L1033.7,924.6 L1035.3,923.3 L1036.8,920.7 L1038.4,910.4 L1039.9,919.4 L1041.4,909.2 L1043.0,902.7 L1044.0,901.5 L1045.6,919.4 L1047.1,910.4 L1048.6,907.9 L1050.2,920.7 L1051.7,907.9 L1053.3,905.3 L1054.8,922.0 L1056.3,919.4 L1057.9,913.0 L1059.4,913.0 L1060.9,907.9 L1062.5,900.2 L1064.0,892.5 L1065.6,888.6 L1067.1,891.2 L1068.6,897.6 L1070.2,900.2 L1071.7,910.4 L1073.3,913.0 L1074.8,915.6 L1076.9,918.1 L1078.4,910.4 L1079.9,913.0 L1081.5,907.9 L1083.0,904.0 L1084.6,913.0 L1086.1,918.1 L1087.6,923.3 L1089.2,938.7 L1091.2,937.4 L1092.8,934.8 L1094.8,933.5 L1096.4,939.9 L1098.4,941.2 L1100.5,942.5 L1102.0,951.0 L1104.1,947.6 L1106.1,946.4 L1108.2,945.1 L1109.7,936.1 L1110.7,933.5 L1112.3,945.1 L1113.8,936.1 L1114.8,923.3 L1116.4,927.1 L1117.9,923.3 L1119.5,915.6 L1121.0,902.7 L1122.5,896.3 L1124.6,895.6 L1126.1,896.3 L1127.7,902.7 L1129.2,906.6 L1130.8,904.0 L1132.3,900.2 L1133.8,895.0 L1135.4,889.9 L1136.9,888.6 L1139.0,886.1 L1140.5,882.2 L1142.0,878.4 L1143.6,884.8 L1145.1,882.2 L1146.7,883.5 L1147.7,892.5 L1149.2,888.6 L1151.3,887.3 L1153.3,887.9 L1154.9,886.1 L1156.4,877.1 L1158.0,869.4 L1159.5,864.2 L1161.5,852.7 L1163.1,866.8 L1164.6,879.6 L1166.2,904.0 L1167.7,909.2 L1169.8,911.7 L1170.3,910.0 L1171.8,912.6 L1173.3,898.4 L1175.4,901.0 L1177.5,899.7 L1179.0,892.0 L1180.5,879.2 L1182.1,871.5 L1183.6,861.2 L1185.1,854.8 L1186.7,874.1 L1188.2,879.2 L1189.8,876.6 L1191.3,874.1 L1192.3,861.2 L1194.4,856.1 L1195.9,851.0 L1197.5,845.8 L1199.0,844.6 L1200.5,845.8 L1202.6,849.7 L1204.1,848.4 L1205.7,858.7 L1207.2,845.8 L1208.8,840.7 L1210.8,834.3 L1211.8,848.4 L1213.9,847.9 L1215.9,847.9 L1217.0,820.2 L1218.0,797.1 L1219.5,796.6 L1221.6,797.1 L1223.1,795.8 L1224.2,817.6 L1225.2,797.1 L1226.7,799.6 L1228.3,784.2 L1229.3,781.7 L1230.8,794.5 L1231.9,817.6 L1233.9,817.6 L1235.4,809.9 L1237.0,822.7 L1238.5,809.9 L1240.1,799.6 L1241.6,786.8 L1243.7,775.3 L1245.2,795.8 L1246.7,781.7 L1248.3,766.3 L1249.8,748.3 L1251.9,745.7 L1253.4,748.3 L1255.0,750.9 L1257.0,750.4 L1258.5,750.9 L1259.6,763.7 L1261.1,765.0 L1262.7,766.8 L1263.7,747.0 L1265.2,748.3 L1266.8,743.2 L1267.8,738.6 L1269.8,738.0 L1270.9,756.0 L1271.9,767.6 L1273.4,771.4 L1275.0,776.5 L1276.5,783.0 L1278.0,775.3 L1280.1,775.3 L1281.6,774.0 L1282.7,759.9 L1284.2,762.4 L1285.7,759.9 L1287.3,758.6 L1289.3,756.0 L1290.9,753.4 L1292.4,752.2 L1294.5,738.6 L1296.0,756.0 L1297.0,766.3 L1298.6,761.1 L1300.6,759.9 L1302.2,763.7 L1303.7,757.3 L1305.8,761.1 L1307.3,763.7 L1308.8,774.0 L1310.4,783.0 L1312.4,783.0 L1314.0,774.0 L1315.5,773.5 L1317.1,765.0 L1318.6,759.9 L1320.1,758.6 L1321.7,748.3 L1323.2,738.0 L1324.8,730.4 L1326.3,725.2 L1327.8,720.1 L1329.4,731.6 L1331.4,730.9 L1333.0,725.2 L1334.5,721.4 L1336.0,699.6 L1337.6,699.0 L1339.1,698.3 L1340.7,712.4 L1341.7,721.4 L1343.2,717.5 L1344.8,721.4 L1346.8,720.6 L1348.4,727.8 L1349.4,745.7 L1350.9,744.5 L1352.0,768.8 L1353.0,786.8 L1354.5,767.6 L1356.1,768.3 L1357.6,768.8 L1358.6,748.3 L1359.7,743.2 L1361.2,732.1 L1362.7,759.9 L1364.3,752.2 L1365.8,750.9 L1367.4,758.6 L1368.4,766.3 L1369.9,771.4 L1371.5,776.5 L1373.0,780.4 L1374.5,768.8 L1376.1,767.6 L1377.6,779.1 L1379.2,753.4 L1380.7,779.1 L1382.2,767.6 L1383.8,766.8 L1384.8,793.2 L1386.3,784.2 L1387.9,785.5 L1389.4,786.8 L1391.0,781.7 L1392.5,775.3 L1394.0,767.6 L1395.6,772.7 L1397.1,780.4 L1398.7,774.0 L1400.2,770.1 L1401.7,772.7 L1403.3,774.0 L1404.8,781.7 L1406.4,772.7 L1407.9,773.5 L1409.4,789.4 L1411.0,771.4 L1412.5,786.8 L1413.6,798.4 L1415.1,789.4 L1416.6,785.5 L1418.2,800.9 L1419.7,801.7 L1421.2,795.8 L1422.3,802.7 L1423.8,786.3 L1425.4,797.1 L1426.9,793.2 L1428.4,789.4 L1430.0,781.7 L1432.0,781.7 L1433.6,784.2 L1435.1,782.2 L1437.2,782.2 L1438.7,776.5 L1440.2,771.4 L1441.8,770.1 L1443.3,753.4 L1444.3,732.9 L1445.9,725.2 L1447.4,720.1 L1449.0,716.2 L1450.5,726.5 L1452.0,718.8 L1453.6,711.1 L1455.1,706.0 L1456.7,709.8 L1458.2,723.9 L1459.7,720.1 L1461.3,715.0 L1462.8,713.7 L1464.4,702.1 L1465.9,695.7 L1467.4,689.3 L1469.0,699.6 L1470.5,707.3 L1472.1,699.6 L1473.6,698.3 L1475.1,688.0 L1476.7,702.1 L1478.2,686.7 L1479.8,683.6 L1481.4,689.5 L1483.0,677.2 L1484.6,675.8 L1486.3,669.0 L1487.9,667.6 L1489.0,670.3 L1490.1,655.3 L1492.3,653.9 L1493.9,648.4 L1495.6,652.5 L1497.2,664.9 L1498.9,675.8 L1500.5,684.0 L1501.6,685.4 L1503.3,673.1 L1504.9,659.4 L1506.5,643.0 L1507.6,623.8 L1509.3,620.5 L1510.9,627.9 L1512.0,636.1 L1513.7,626.5 L1515.3,643.0 L1516.9,644.3 L1518.6,645.7 L1519.7,653.9 L1521.3,645.7 L1523.0,658.0 L1524.6,651.2 L1526.2,637.5 L1527.9,640.2 L1529.5,638.9 L1530.6,651.2 L1532.3,675.8 L1533.9,684.0 L1535.6,692.2 L1537.2,681.3 L1538.8,675.8 L1540.5,659.4 L1542.1,678.5 L1543.8,659.4 L1545.4,641.6 L1547.0,656.6 L1548.7,659.4 L1550.3,659.4 L1551.4,598.6 L1552.5,599.2 L1553.6,667.6 L1554.7,618.3 L1556.4,629.3 L1558.0,621.1 L1559.1,647.1 L1560.2,674.4 L1561.8,673.1 L1563.5,662.1 L1565.1,681.3 L1566.8,675.8 L1568.4,674.4 L1570.0,670.3 L1571.7,669.0 L1573.3,689.5 L1575.0,670.3 L1576.6,662.1 L1578.3,681.3 L1579.9,675.8 L1581.5,670.3 L1583.2,671.7 L1584.8,681.3 L1586.5,686.8 L1588.1,695.0 L1589.8,703.2 L1591.4,692.2 L1593.6,690.9 L1595.2,688.1 L1596.9,670.3 L1598.5,660.8 L1600.2,656.6 L1601.8,653.9 L1603.4,638.9 L1605.1,622.4 L1606.7,623.8 L1608.4,632.0 L1610.0,612.8 L1611.7,607.4 L1613.3,627.9 L1614.9,626.5 L1616.6,621.1 L1618.2,627.9 L1619.3,640.2 L1621.0,648.4 L1622.6,656.6 L1623.7,664.9 L1624.8,708.7 L1625.9,711.4 L1627.5,695.0 L1629.2,684.0 L1630.3,678.5 L1631.4,716.9 L1632.5,771.6 L1633.6,826.4 L1634.6,889.3 L1635.2,826.4 L1635.7,793.5 L1636.8,790.8 L1637.9,807.2 L1639.6,801.7 L1641.2,801.7 L1642.3,771.6 L1643.4,757.9 L1644.5,727.8 L1645.6,729.2 L1646.7,741.5 L1648.3,730.6 L1650.0,733.3 L1651.6,726.4 L1652.7,733.3 L1654.4,725.1 L1656.0,716.9 L1657.6,714.1 L1659.3,719.6 L1661.5,708.1 L1662.6,749.7 L1664.2,760.7 L1665.9,771.6 L1667.5,777.1 L1668.6,790.8 L1669.7,766.1 L1670.8,771.6 L1672.4,775.7 L1674.1,782.0 L1675.7,774.4 L1677.3,755.2 L1678.4,748.3 L1680.1,747.0 L1681.7,741.5 L1683.4,711.4 L1684.5,730.6 L1686.1,749.7 L1687.8,729.2 L1688.8,744.2 L1690.5,726.4 L1692.7,712.8 L1694.3,727.8 L1696.0,722.3 L1697.6,719.6 L1699.2,714.1 L1700.0,713.4 L1701.1,727.1 L1702.7,727.1 L1704.4,729.1 L1706.0,729.8 L1707.1,739.4 L1708.2,744.9 L1709.6,749.6 L1710.7,744.9 L1712.0,731.2 L1713.4,714.7 L1714.2,716.1 L1715.9,738.0 L1718.3,738.0 L1719.4,733.9 L1720.5,705.2 L1722.2,690.8 L1723.8,692.8 L1725.7,692.8 L1726.5,701.1 L1727.6,709.3 L1729.3,714.7 L1731.2,720.9 L1732.6,718.9 L1733.7,728.4 L1734.7,734.6 L1735.8,721.6 L1737.5,720.9 L1738.9,733.9 L1739.7,740.8 L1741.3,736.6 L1743.0,731.2 L1744.3,720.2 L1745.7,708.6 L1747.1,718.9 L1748.4,717.5 L1750.1,716.1 L1751.7,713.4 L1753.4,701.7 L1754.7,713.4 L1756.6,713.4 L1758.0,718.9 L1759.4,724.3 L1760.8,729.8 L1762.1,724.3 L1763.8,720.2 L1765.4,718.9 L1766.5,701.1 L1767.6,689.4 L1769.2,694.2 L1770.9,695.9 L1773.1,695.9 L1774.4,699.7 L1775.8,706.5 L1777.5,694.2 L1778.5,707.2 L1779.9,723.0 L1781.6,723.0 L1782.9,729.8 L1784.0,734.6 L1785.7,738.0 L1787.3,736.6 L1788.9,728.4 L1790.6,720.2 L1791.7,708.6 L1793.3,707.9 L1794.7,710.6 L1796.3,705.2 L1797.7,702.4 L1799.6,699.7 L1801.0,713.4 L1802.1,729.8 L1803.2,718.9 L1804.6,718.9 L1805.1,736.6 L1805.9,744.9 L1807.3,751.7 L1808.7,754.4 L1809.8,755.1 L1810.6,754.4 L1811.7,742.8 L1812.8,744.9 L1815.2,742.8 L1816.3,755.8 L1816.9,757.2 L1818.5,756.5 L1819.6,755.8 L1821.2,756.5 L1822.3,764.0 L1823.4,770.2 L1824.5,777.7 L1825.6,766.8 L1826.7,757.2 L1827.8,768.1 L1829.2,762.7 L1830.6,753.8 L1831.7,769.5 L1833.0,772.2 L1834.4,780.4 L1835.5,783.9 L1836.6,777.7 L1837.9,768.1 L1839.3,762.7 L1840.4,758.5 L1841.8,746.2 L1843.1,742.1 L1844.8,740.1" stroke="#f60404" stroke-width="3.9"/>
<line x1="101.3" y1="731.5" x2="1849.4" y2="738.3" stroke="#0ba555" stroke-width="2.9" stroke-linecap="butt"/>
</g>
<g class="ax">
<text x="1.9" y="1082.3" font-size="22.6" textLength="65" lengthAdjust="spacingAndGlyphs">15,000</text>
<text x="1.9" y="906.7" font-size="22.6" textLength="65" lengthAdjust="spacingAndGlyphs">20,000</text>
<text x="1.9" y="731.2" font-size="22.6" textLength="65" lengthAdjust="spacingAndGlyphs">25,000</text>
<text x="1.9" y="555.6" font-size="22.6" textLength="65" lengthAdjust="spacingAndGlyphs">30,000</text>
<text x="1.9" y="380.1" font-size="22.6" textLength="65" lengthAdjust="spacingAndGlyphs">35,000</text>
<text x="1.9" y="204.5" font-size="22.6" textLength="65" lengthAdjust="spacingAndGlyphs">40,000</text>
<text x="1871.9" y="1082.8" font-size="24" textLength="27.2" lengthAdjust="spacingAndGlyphs">10</text>
<text x="1871.9" y="1021.3" font-size="24" textLength="27.2" lengthAdjust="spacingAndGlyphs">11</text>
<text x="1871.9" y="959.8" font-size="24" textLength="27.2" lengthAdjust="spacingAndGlyphs">12</text>
<text x="1871.9" y="898.3" font-size="24" textLength="27.2" lengthAdjust="spacingAndGlyphs">13</text>
<text x="1871.9" y="836.8" font-size="24" textLength="27.2" lengthAdjust="spacingAndGlyphs">14</text>
<text x="1871.9" y="775.4" font-size="24" textLength="27.2" lengthAdjust="spacingAndGlyphs">15</text>
<text x="1871.9" y="713.9" font-size="24" textLength="27.2" lengthAdjust="spacingAndGlyphs">16</text>
<text x="1871.9" y="652.4" font-size="24" textLength="27.2" lengthAdjust="spacingAndGlyphs">17</text>
<text x="1871.9" y="590.9" font-size="24" textLength="27.2" lengthAdjust="spacingAndGlyphs">18</text>
<text x="1871.9" y="529.4" font-size="24" textLength="27.2" lengthAdjust="spacingAndGlyphs">19</text>
<text x="1871.9" y="467.9" font-size="24" textLength="27.2" lengthAdjust="spacingAndGlyphs">20</text>
<text x="1871.9" y="406.4" font-size="24" textLength="27.2" lengthAdjust="spacingAndGlyphs">21</text>
<text x="1871.9" y="345.0" font-size="24" textLength="27.2" lengthAdjust="spacingAndGlyphs">22</text>
<text x="1871.9" y="283.5" font-size="24" textLength="27.2" lengthAdjust="spacingAndGlyphs">23</text>
<text x="1871.9" y="222.0" font-size="24" textLength="27.2" lengthAdjust="spacingAndGlyphs">24</text>
<text x="1871.9" y="160.5" font-size="24" textLength="27.2" lengthAdjust="spacingAndGlyphs">25</text>
<text x="1871.9" y="99.0" font-size="24" textLength="27.2" lengthAdjust="spacingAndGlyphs">26</text>
<text x="93.3" y="1104.2" font-size="19.3" text-anchor="middle">Jan<tspan textLength="12.6" lengthAdjust="spacingAndGlyphs">-</tspan>20</text>
<text x="176.9" y="1104.2" font-size="19.3" text-anchor="middle">Apr<tspan textLength="12.6" lengthAdjust="spacingAndGlyphs">-</tspan>20</text>
<text x="260.6" y="1104.2" font-size="19.3" text-anchor="middle">Jul<tspan textLength="12.6" lengthAdjust="spacingAndGlyphs">-</tspan>20</text>
<text x="345.1" y="1104.2" font-size="19.3" text-anchor="middle">Oct<tspan textLength="12.6" lengthAdjust="spacingAndGlyphs">-</tspan>20</text>
<text x="429.7" y="1104.2" font-size="19.3" text-anchor="middle">Jan<tspan textLength="12.6" lengthAdjust="spacingAndGlyphs">-</tspan>21</text>
<text x="512.4" y="1104.2" font-size="19.3" text-anchor="middle">Apr<tspan textLength="12.6" lengthAdjust="spacingAndGlyphs">-</tspan>21</text>
<text x="596.0" y="1104.2" font-size="19.3" text-anchor="middle">Jul<tspan textLength="12.6" lengthAdjust="spacingAndGlyphs">-</tspan>21</text>
<text x="680.6" y="1104.2" font-size="19.3" text-anchor="middle">Oct<tspan textLength="12.6" lengthAdjust="spacingAndGlyphs">-</tspan>21</text>
<text x="765.1" y="1104.2" font-size="19.3" text-anchor="middle">Jan<tspan textLength="12.6" lengthAdjust="spacingAndGlyphs">-</tspan>22</text>
<text x="847.8" y="1104.2" font-size="19.3" text-anchor="middle">Apr<tspan textLength="12.6" lengthAdjust="spacingAndGlyphs">-</tspan>22</text>
<text x="931.5" y="1104.2" font-size="19.3" text-anchor="middle">Jul<tspan textLength="12.6" lengthAdjust="spacingAndGlyphs">-</tspan>22</text>
<text x="1016.0" y="1104.2" font-size="19.3" text-anchor="middle">Oct<tspan textLength="12.6" lengthAdjust="spacingAndGlyphs">-</tspan>22</text>
<text x="1100.6" y="1104.2" font-size="19.3" text-anchor="middle">Jan<tspan textLength="12.6" lengthAdjust="spacingAndGlyphs">-</tspan>23</text>
<text x="1183.3" y="1104.2" font-size="19.3" text-anchor="middle">Apr<tspan textLength="12.6" lengthAdjust="spacingAndGlyphs">-</tspan>23</text>
<text x="1266.9" y="1104.2" font-size="19.3" text-anchor="middle">Jul<tspan textLength="12.6" lengthAdjust="spacingAndGlyphs">-</tspan>23</text>
<text x="1351.5" y="1104.2" font-size="19.3" text-anchor="middle">Oct<tspan textLength="12.6" lengthAdjust="spacingAndGlyphs">-</tspan>23</text>
<text x="1436.0" y="1104.2" font-size="19.3" text-anchor="middle">Jan<tspan textLength="12.6" lengthAdjust="spacingAndGlyphs">-</tspan>24</text>
<text x="1519.7" y="1104.2" font-size="19.3" text-anchor="middle">Apr<tspan textLength="12.6" lengthAdjust="spacingAndGlyphs">-</tspan>24</text>
<text x="1603.3" y="1104.2" font-size="19.3" text-anchor="middle">Jul<tspan textLength="12.6" lengthAdjust="spacingAndGlyphs">-</tspan>24</text>
<text x="1687.8" y="1104.2" font-size="19.3" text-anchor="middle">Oct<tspan textLength="12.6" lengthAdjust="spacingAndGlyphs">-</tspan>24</text>
<text x="1772.4" y="1104.2" font-size="19.3" text-anchor="middle">Jan<tspan textLength="12.6" lengthAdjust="spacingAndGlyphs">-</tspan>25</text>
</g>
<rect x="486" y="8" width="937.2" height="63" rx="1" fill="#fff" stroke="#0b6eb9" stroke-width="4"/>
<text class="jp ttl" y="54.6" font-size="41.5"><tspan x="495" font-size="41" textLength="84.8" lengthAdjust="spacingAndGlyphs">2020</tspan><tspan x="579.5" textLength="381" lengthAdjust="spacing">年年初来の日経平均</tspan><tspan x="963.7" textLength="86.4" lengthAdjust="spacing">株価</tspan><tspan x="1047">と</tspan><tspan x="1086.5" textLength="80" lengthAdjust="spacing">予想</tspan><tspan x="1167.5" font-size="41" textLength="80" lengthAdjust="spacingAndGlyphs">PER</tspan><tspan x="1246.4" textLength="168.2" lengthAdjust="spacing">水準推移</tspan></text>
<line x1="737.5" x2="787.7" y1="1137" y2="1137" stroke="#0b6eb9" stroke-width="4.1" stroke-linecap="round"/>
<text class="jp lg" x="794.6" y="1151.5" font-size="35" textLength="145" lengthAdjust="spacing">日経平均</text>
<line x1="997.3" x2="1047.8" y1="1137" y2="1137" stroke="#f60404" stroke-width="4.1" stroke-linecap="round"/>
<text class="jp lg" y="1151.5" font-size="35"><tspan x="1055.8" textLength="71" lengthAdjust="spacing">予想</tspan><tspan x="1126.4" font-size="33.4">PER</tspan></text>
<text class="jp" y="1004" font-size="35.5" fill="#000"><tspan x="1453" textLength="72" lengthAdjust="spacing">出所</tspan><tspan x="1531" font-size="30">:</tspan><tspan x="1547.2" font-weight="bold" font-size="31" fill="#18a8ea" textLength="193.6" lengthAdjust="spacingAndGlyphs">Fund Garage</tspan></text>
<text class="la" y="1054.6" font-size="32.5" fill="#000"><tspan x="1453.4" textLength="88" lengthAdjust="spacingAndGlyphs">https:</tspan><tspan x="1577" textLength="245" lengthAdjust="spacingAndGlyphs">fundgarage.com</tspan></text>
<text class="la sl" transform="translate(1543.6,1061.5) skewX(-14.7) scale(1,1.55)" font-size="33" letter-spacing="6.1">//</text>
<text class="la sl" transform="translate(1823.2,1061.5) skewX(-8) scale(1,1.5)" font-size="33">/</text>
<line x1="0" x2="1907" y1="1164" y2="1164" stroke="#d6d6d6" stroke-width="1.9"/>
</svg>
</body></html>
